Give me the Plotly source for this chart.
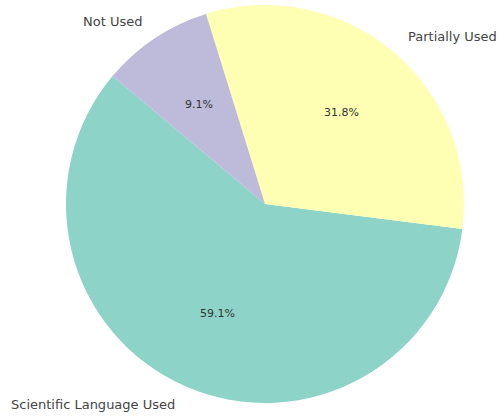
import math
import plotly.graph_objects as go

# Share of responses by use of scientific language
categories = ["Scientific Language Used", "Partially Used", "Not Used"]
shares = [59.1, 31.8, 9.1]
colors = ["#8dd3c7", "#ffffb3", "#bebada"]

W, H = 498, 416
START_DEG = 140          # first slice starts here (counterclockwise from 3 o'clock)
LABEL_DIST = 1.1
PCT_DIST = 0.6

# pie placement in pixels
cx, cy, r = 265, 204, 199
dom_x = [(cx - r) / W, (cx + r) / W]
dom_y = [1 - (cy + r) / H, 1 - (cy - r) / H]

total = sum(shares)
first_span = 360 * shares[0] / total
# plotly anchors the end of the first counterclockwise slice at (90 - rotation)
rotation = 90 - (START_DEG + first_span)
while rotation < -360:
    rotation += 360

fig = go.Figure(go.Pie(
    labels=categories,
    values=shares,
    sort=False,
    direction="counterclockwise",
    rotation=rotation,
    marker=dict(colors=colors, line=dict(width=0)),
    textinfo="none",
    hoverinfo="label+percent",
    showlegend=False,
    domain=dict(x=dom_x, y=dom_y),
))

annotations = []
angle = START_DEG
for name, v in zip(categories, shares):
    span = 360 * v / total
    mid = math.radians(angle + span / 2)
    angle += span
    # outer category label
    lx = cx + LABEL_DIST * r * math.cos(mid)
    ly = cy - LABEL_DIST * r * math.sin(mid)
    annotations.append(dict(
        x=lx / W, y=1 - ly / H, xref="paper", yref="paper",
        text=name, showarrow=False,
        xanchor="left" if math.cos(mid) > 0 else "right", yanchor="middle",
        font=dict(family="DejaVu Sans", size=13, color="#444444"),
    ))
    # percentage inside the slice
    px = cx + PCT_DIST * r * math.cos(mid)
    py = cy - PCT_DIST * r * math.sin(mid)
    annotations.append(dict(
        x=px / W, y=1 - py / H, xref="paper", yref="paper",
        text=f"{v:.1f}%", showarrow=False,
        xanchor="center", yanchor="middle",
        font=dict(family="DejaVu Sans", size=11, color="#333333"),
    ))

fig.update_layout(
    width=W, height=H,
    margin=dict(l=0, r=0, t=0, b=0),
    paper_bgcolor="white",
    plot_bgcolor="white",
    annotations=annotations,
)

fig.write_html("out.html")
